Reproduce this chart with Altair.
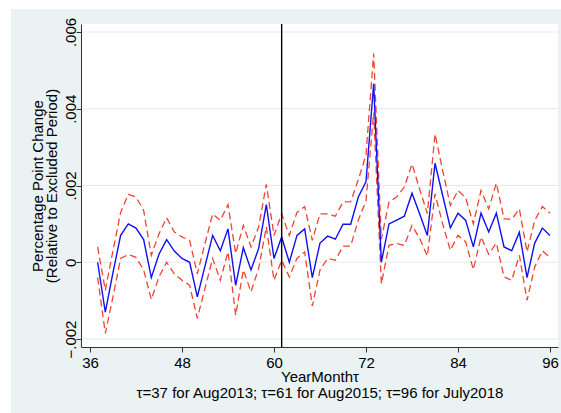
import altair as alt
import pandas as pd

months = list(range(37, 97))

estimate = [0.0, -0.0013, -0.00027, 0.0007, 0.001, 0.00089, 0.00059, -0.0004, 0.00021, 0.00059,
            0.00029, 0.0001, 0.0, -0.0009, -0.0001, 0.0007, 0.0003, 0.00087, -0.0006, 0.00038,
            -0.0002, 0.00036, 0.0015, 0.0001, 0.00066, 0.0, 0.0007, 0.00087, -0.0004, 0.0005,
            0.00068, 0.0006, 0.00099, 0.00099, 0.0017, 0.0021, 0.00465, 0.0, 0.001, 0.0011,
            0.0012, 0.0018, 0.00126, 0.0007, 0.00258, 0.00174, 0.0009, 0.00128, 0.00109, 0.0004,
            0.00128, 0.00079, 0.00128, 0.0004, 0.0003, 0.00078, -0.0004, 0.0005, 0.00089, 0.0007]

upper = [0.0004, -0.00073, 0.0003, 0.0013, 0.00177, 0.0017, 0.00135, 0.00018, 0.00074, 0.00116,
         0.00079, 0.00066, 0.00057, -0.0003, 0.00049, 0.00126, 0.00109, 0.0015, 0.00023, 0.00096,
         0.0004, 0.00092, 0.00203, 0.0007, 0.00126, 0.0007, 0.0013, 0.00145, 0.00057, 0.00126,
         0.00126, 0.0012, 0.00157, 0.00158, 0.00215, 0.0028, 0.00544, 0.0006, 0.00157, 0.0017,
         0.00196, 0.00256, 0.0019, 0.00127, 0.00334, 0.00239, 0.00148, 0.00187, 0.00168, 0.001,
         0.00187, 0.00139, 0.00206, 0.00113, 0.00112, 0.00139, 0.00027, 0.00109, 0.00145, 0.00128]

lower = [-0.0004, -0.00185, -0.0009, 0.0001, 0.0002, 0.00013, -0.0002, -0.00097, -0.00038, 0.0,
         -0.0003, -0.00047, -0.0006, -0.00146, -0.00068, 0.0001, -0.00047, 0.00027, -0.00138, -0.0002,
         -0.00077, -0.00016, 0.00092, -0.00047, 0.00005, -0.00038, 0.0001, 0.00027, -0.00114, -0.0002,
         0.0001, 0.00005, 0.00042, 0.00042, 0.0011, 0.0016, 0.0039, -0.00056, 0.00044, 0.00049,
         0.00044, 0.00096, 0.00062, 0.00016, 0.00178, 0.001, 0.00031, 0.0007, 0.00053, -0.00019,
         0.00066, 0.00021, 0.0005, -0.00038, -0.00047, 0.00018, -0.00099, -0.00012, 0.0003, 0.00012]

x_ticks = [36, 48, 60, 72, 84, 96]
y_ticks = [-0.002, 0.0, 0.002, 0.004, 0.006]
event_month = [61]

x_title = ["YearMonthτ", "τ=37 for Aug2013; τ=61 for Aug2015; τ=96 for July2018"]
y_title = ["Percentage Point Change", "(Relative to Excluded Period)"]

df = pd.DataFrame({"m": months, "est": estimate, "up": upper, "lo": lower})
grid_df = pd.DataFrame({"g": y_ticks})
vline_df = pd.DataFrame({"v": event_month})
one = pd.DataFrame({"a": [0]})

W, H = 477, 323
BG = "#EAF2F3"
FONT = "Liberation Sans"
FS = 15

xscale = alt.Scale(domain=[34.83, 97.04], nice=False, zero=False)
yscale = alt.Scale(domain=[-0.002208, 0.006208], nice=False, zero=False)

xaxis = alt.Axis(values=x_ticks, title=x_title, grid=False, zindex=1, labelFlush=False,
                 tickSize=5, tickColor="#333333", domainColor="#333333",
                 labelFontSize=FS, labelColor="black", labelFont=FONT, labelPadding=3,
                 titleFont=FONT, titleFontSize=FS, titleFontWeight="normal",
                 titleColor="black", titlePadding=-1, titleLineHeight=16.5)
yaxis = alt.Axis(values=y_ticks, title=y_title, grid=False, zindex=1, labelFlush=False,
                 labelExpr="datum.value == 0 ? '0' : replace(format(datum.value, '.3f'), '0.', '.')",
                 labelAngle=270, labelAlign="center", labelBaseline="alphabetic",
                 tickSize=5, tickColor="#333333", domainColor="#333333",
                 labelFontSize=FS, labelColor="black", labelFont=FONT, labelPadding=1,
                 titleFont=FONT, titleFontSize=FS, titleFontWeight="normal",
                 titleColor="black", titlePadding=4, titleLineHeight=14, titleAngle=270)

outer = alt.Chart(one).mark_rect(color=BG).encode(
    x=alt.value(-70), x2=alt.value(W + 3), y=alt.value(-15), y2=alt.value(H + 66))
plot_bg = alt.Chart(one).mark_rect(color="white").encode(
    x=alt.value(0), x2=alt.value(W), y=alt.value(0), y2=alt.value(H))
grid = alt.Chart(grid_df).mark_rule(color="#E4ECEE", strokeWidth=1.2).encode(
    y=alt.Y("g:Q", scale=yscale, axis=yaxis), x=alt.value(0), x2=alt.value(W))

lo_line = alt.Chart(df).mark_line(color="#EE4433", strokeWidth=1.3, strokeDash=[7, 4]).encode(
    x=alt.X("m:Q", scale=xscale, axis=xaxis), y=alt.Y("lo:Q", scale=yscale))
up_line = alt.Chart(df).mark_line(color="#EE4433", strokeWidth=1.3, strokeDash=[7, 4]).encode(
    x=alt.X("m:Q", scale=xscale), y=alt.Y("up:Q", scale=yscale))
est_line = alt.Chart(df).mark_line(color="#1010F0", strokeWidth=1.4).encode(
    x=alt.X("m:Q", scale=xscale), y=alt.Y("est:Q", scale=yscale))
vline = alt.Chart(vline_df).mark_rule(color="black", strokeWidth=1.4).encode(
    x=alt.X("v:Q", scale=xscale), y=alt.value(0), y2=alt.value(H))

chart = alt.layer(outer, plot_bg, grid, lo_line, up_line, est_line, vline).properties(
    width=W, height=H,
    autosize=alt.AutoSizeParams(type="none"),
    padding={"left": 81, "top": 24, "right": 3, "bottom": 66},
    background="white",
).configure_view(stroke=None)

chart.save("out.html", embed_options={"renderer": "svg", "actions": False})
